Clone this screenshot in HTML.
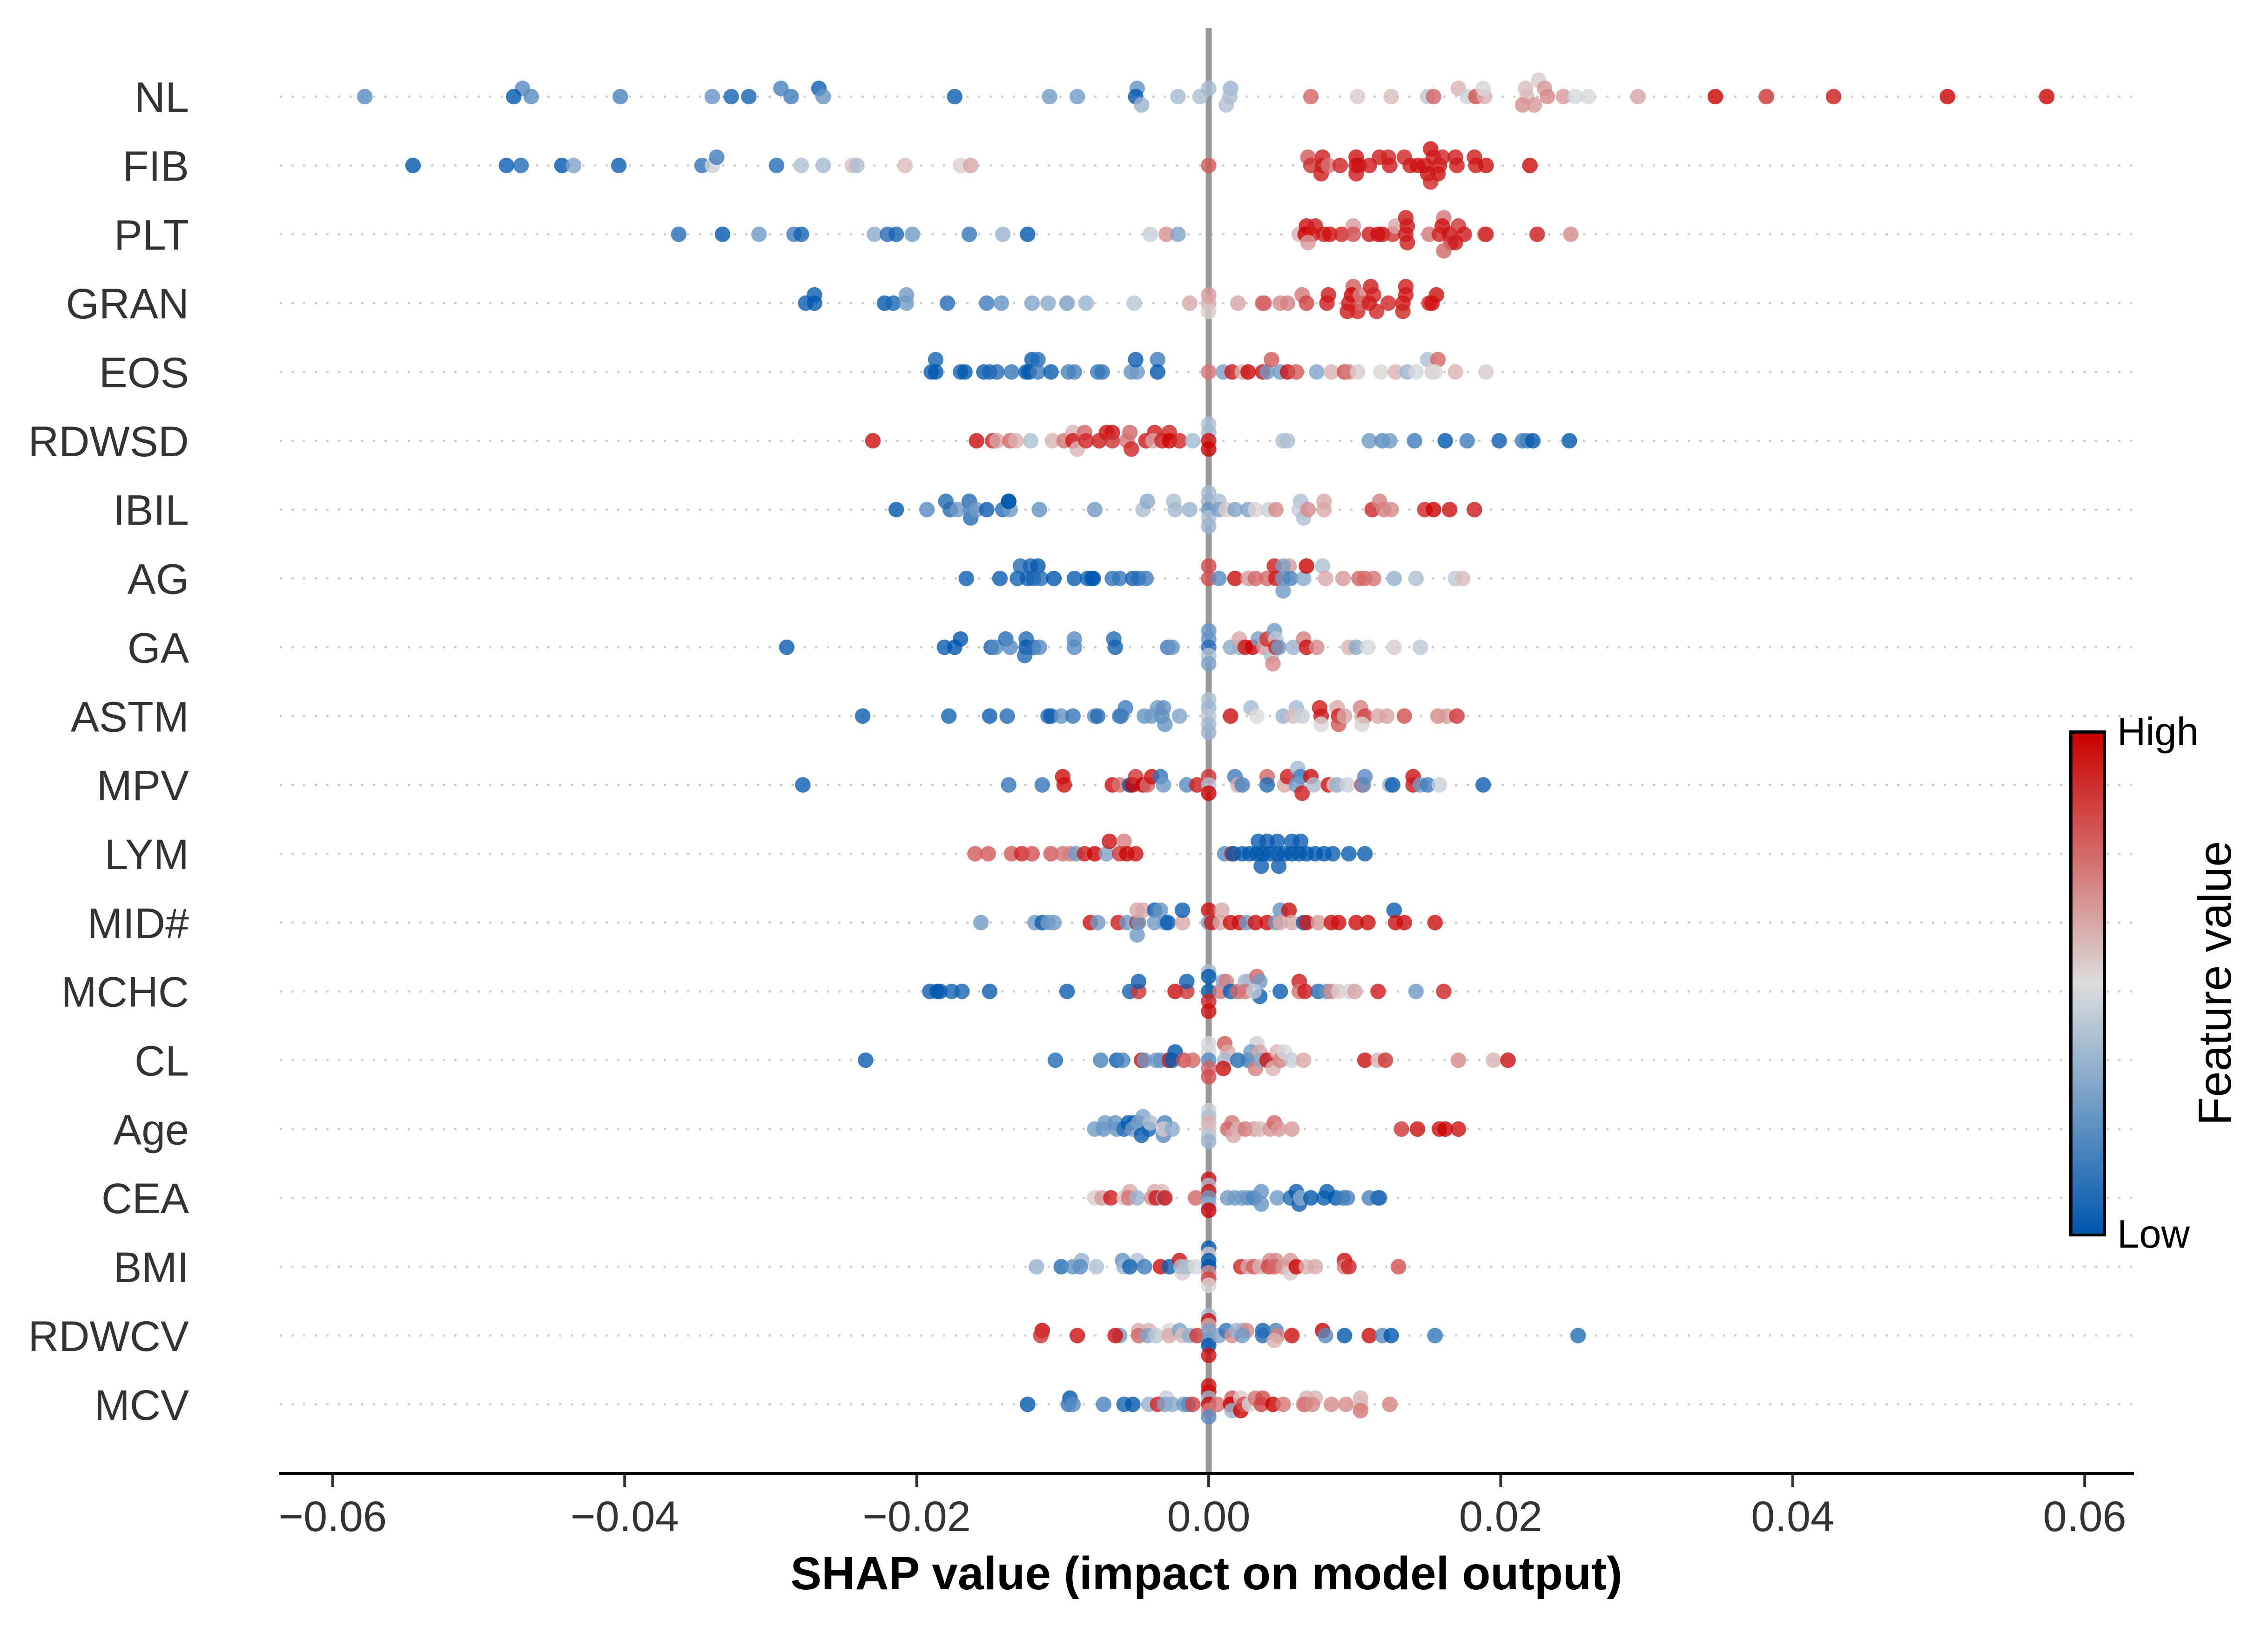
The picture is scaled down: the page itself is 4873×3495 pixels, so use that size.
<!DOCTYPE html>
<html lang="en">
<head>
<meta charset="utf-8">
<title>SHAP summary plot</title>
<style>
html,body{margin:0;padding:0;background:#fff;}
svg{display:block;font-family:"Liberation Sans",Arial,sans-serif;}
</style>
</head>
<body>
<svg id="chart" xmlns="http://www.w3.org/2000/svg" width="4873" height="3495" viewBox="0 0 4873 3495">
<defs>
<linearGradient id="cbar" x1="0" y1="1" x2="0" y2="0">
<stop offset="0" stop-color="#0057ae"/>
<stop offset="0.5" stop-color="#dcdcdc"/>
<stop offset="1" stop-color="#cc0000"/>
</linearGradient>
</defs>
<rect x="0" y="0" width="4873" height="3495" fill="#fff"/>
<g id="grid"></g>
<line x1="2597" y1="60" x2="2597" y2="3164" stroke="#999999" stroke-width="13"/>
<g id="marks"></g>
<g id="ylabels"></g>
<g id="xaxis"></g>
<text x="2592" y="3414" font-size="100" font-weight="bold" text-anchor="middle" fill="#000">SHAP value (impact on model output)</text>
<g>
<rect x="4446" y="1569" width="79" height="1087" fill="#000"/>
<rect x="4453" y="1576" width="66" height="1074" fill="url(#cbar)"/>
<text x="4549" y="1601" font-size="85" fill="#000">High</text>
<text x="4549" y="2680" font-size="85" fill="#000">Low</text>
<text transform="translate(4793 2112) rotate(-90)" font-size="100" text-anchor="middle" fill="#000">Feature value</text>
</g>
</svg>
<script>
// Feature order, top to bottom
const features = ["NL","FIB","PLT","GRAN","EOS","RDWSD","IBIL","AG","GA","ASTM","MPV","LYM","MID#","MCHC","CL","Age","CEA","BMI","RDWCV","MCV"];
const xTicks = [-0.06,-0.04,-0.02,0,0.02,0.04,0.06];
const xTickLabels = ["\u22120.06","\u22120.04","\u22120.02","0.00","0.02","0.04","0.06"];

// SHAP values (x 10^-3), swarm layers (negative = above row), feature values (0..1)
const shapNL = [-57.8,-47.0,-47.6,-46.4,-40.3,-34.0,-32.7,-31.5,-29.3,-28.6,-26.7,-26.4,-17.4,-10.9,-9.0,-4.9,-5.0,-4.6,-2.1,-0.6,0,1.5,1.45,1.2,7.0,10.2,12.5,15.0,15.4,17.1,17.7,18.3,18.9,18.8,21.7,21.8,22.6,23.0,23.2,21.5,22.3,24.3,25.1,26.0,29.4,34.7,38.2,42.8,50.6,57.4];
const layerNL = [0,-1,0,0,0,0,0,0,-1,0,-1,0,0,0,0,-1,0,1,0,0,-1,-1,0,1,0,0,0,0,0,-1,0,0,0,-1,-1,0,-2,-1,0,1,1,0,0,0,0,0,0,0,0,0];
const valueNL = [.25,.25,.08,.25,.22,.28,.12,.12,.22,.2,.1,.28,.1,.3,.3,.28,.05,.38,.4,.42,.4,.38,.42,.42,.75,.55,.58,.45,.75,.6,.48,.8,.6,.53,.58,.58,.55,.65,.68,.67,.65,.65,.5,.5,.63,.95,.85,.9,.95,.95];

const shapFIB = [-54.5,-48.1,-47.1,-44.3,-43.5,-40.4,-34.7,-34.0,-33.7,-29.6,-27.9,-26.4,-24.4,-24.1,-20.8,-17.0,-16.3,0,6.8,7.0,7.8,7.8,7.7,8.2,9.0,10.1,10.1,10.3,10.1,11.0,11.7,12.3,12.4,13.4,13.8,14.3,14.8,15.2,15.4,15.0,15.7,15.2,15.8,16.0,16.9,17.0,18.2,18.3,19.0,22.0];
const layerFIB = [0,0,0,0,0,0,0,0,-1,0,0,0,0,0,0,0,0,0,-1,0,-1,0,1,0,0,-1,0,0,1,0,-1,-1,0,-1,0,0,0,-2,-1,1,1,2,0,-1,-1,0,-1,0,0,0];
const valueFIB = [.08,.1,.15,.08,.33,.1,.17,.48,.2,.15,.42,.4,.58,.42,.58,.54,.63,.78,.78,.85,.9,.9,.9,.72,.88,.92,.92,.92,.9,.9,.9,.88,.9,.88,.9,.92,.92,.92,.9,.92,.92,.88,.9,.88,.9,.9,.9,.9,.92,.93];

const shapPLT = [-36.3,-33.3,-30.8,-28.4,-27.9,-22.9,-22.0,-21.4,-20.3,-16.4,-14.1,-12.4,-4.0,-2.9,-2.1,6.2,6.7,6.6,7.3,7.1,6.8,7.9,8.3,9.1,9.9,9.9,11.0,11.6,11.9,12.6,12.8,13.5,13.6,13.5,13.6,15.1,16.1,16.0,15.8,16.5,16.6,17.1,16.9,16.1,17.5,18.9,19.0,22.5,24.8];
const layerPLT = [0,0,0,0,0,0,0,0,0,0,0,0,0,0,0,0,-1,0,-1,0,1,0,0,0,-1,0,0,0,0,0,-1,-2,-1,0,1,0,-2,-1,0,0,1,-1,1,2,0,0,0,0,0];
const valuePLT = [.15,.08,.3,.2,.12,.35,.15,.12,.3,.18,.38,.08,.47,.67,.33,.6,.92,.95,.9,.9,.65,.9,.92,.88,.65,.8,.9,.92,.92,.85,.62,.9,.9,.9,.9,.72,.72,.92,.88,.92,.85,.85,.9,.75,.9,.72,.88,.9,.68];

const shapGRAN = [-27.0,-27.6,-27.0,-22.2,-21.6,-20.7,-20.7,-17.9,-15.2,-14.2,-12.1,-11.0,-9.7,-8.4,-5.1,-1.3,0,0,0,2.0,3.7,3.8,4.9,5.4,6.4,6.7,8.2,8.1,9.9,9.8,9.6,9.5,10.2,10.4,10.5,11.1,11.3,11.0,11.5,12.3,13.5,13.5,13.3,13.3,15.1,15.3,15.6];
const layerGRAN = [-1,0,0,0,0,-1,0,0,0,0,0,0,0,0,0,0,-1,0,1,0,0,0,0,0,-1,0,-1,0,-2,-1,0,1,1,-1,0,-2,-1,0,1,0,-2,-1,0,1,0,0,-1];
const valueGRAN = [.1,.1,.08,.08,.13,.3,.3,.15,.2,.28,.33,.35,.32,.38,.44,.62,.65,.62,.55,.63,.78,.75,.68,.7,.72,.82,.9,.9,.78,.95,.9,.9,.88,.7,.75,.9,.88,.9,.88,.88,.9,.9,.9,.88,.88,.92,.92];

const shapEOS = [-18.7,-19.0,-18.7,-17.0,-16.7,-15.4,-15.0,-14.5,-13.5,-12.5,-12.3,-12.1,-11.7,-11.7,-10.8,-9.6,-9.2,-7.6,-7.3,-5.3,-4.9,-5.0,-3.5,-3.5,0,1.0,1.6,2.3,2.7,3.7,4.0,4.3,4.9,5.4,6.0,7.4,8.4,9.3,9.6,10.2,11.8,12.8,13.6,14.2,15.0,15.7,15.3,15.5,16.9,19.0];
const layerEOS = [-1,0,0,0,0,0,0,0,0,0,0,-1,-1,0,0,0,0,0,0,0,0,-1,-1,0,0,0,0,0,0,0,0,-1,0,0,0,0,0,0,0,0,0,0,0,0,-1,-1,0,0,0,0];
const valueEOS = [.12,.1,.08,.12,.05,.1,.12,.15,.18,.08,.05,.1,.15,.2,.1,.22,.22,.2,.18,.28,.3,.1,.2,.08,.72,.32,.9,.6,.95,.92,.3,.78,.3,.92,.78,.33,.6,.8,.7,.55,.53,.6,.38,.5,.42,.75,.55,.52,.6,.55];

const shapRDWSD = [-23.0,-15.9,-14.8,-14.5,-13.6,-13.2,-12.2,-10.7,-9.9,-9.3,-9.3,-9.0,-8.5,-8.4,-7.0,-7.5,-6.6,-6.6,-5.4,-5.6,-5.3,-4.3,-3.7,-3.8,-3.2,-2.7,-2.7,-2.0,-1.1,0,0,0,0,5.1,5.4,11.0,11.9,12.4,14.1,16.2,17.7,19.9,21.5,21.8,22.2,24.7];
const layerRDWSD = [0,0,0,0,0,0,0,0,0,-1,0,1,-1,0,-1,0,-1,0,-1,0,1,0,-1,0,0,-1,0,0,0,-2,-1,0,1,0,0,0,0,0,0,0,0,0,0,0,0,0];
const valueRDWSD = [.92,.92,.88,.62,.75,.6,.42,.6,.72,.6,.9,.6,.75,.88,.92,.9,.92,.85,.75,.72,.88,.9,.9,.62,.88,.88,.98,.88,.4,.42,.4,.92,.95,.42,.42,.3,.25,.3,.2,.08,.2,.1,.2,.22,.05,.08];

const shapIBIL = [-21.4,-19.3,-18.0,-17.7,-17.2,-16.4,-16.3,-16.3,-15.9,-15.2,-14.1,-13.6,-13.7,-13.7,-11.6,-7.8,-4.5,-4.2,-2.4,-2.3,-1.3,0,0,0,0,0,0.7,0.7,1.2,1.8,2.7,3.2,4.1,4.6,6.3,6.2,6.5,6.8,7.9,7.9,11.2,11.7,12.0,12.5,14.8,15.4,16.5,18.2];
const layerIBIL = [0,0,-1,0,0,-1,1,0,0,0,0,0,-1,-1,0,0,0,-1,-1,0,0,-2,-1,0,1,2,-1,0,0,0,0,0,0,0,-1,0,1,0,-1,0,0,-1,0,0,0,0,0,0];
const valueIBIL = [.08,.25,.15,.15,.3,.15,.15,.25,.3,.1,.15,.3,.05,.08,.27,.3,.42,.35,.42,.4,.38,.4,.38,.28,.42,.38,.42,.32,.55,.33,.33,.53,.48,.68,.42,.47,.42,.68,.62,.62,.88,.7,.7,.68,.88,.95,.92,.9];

const shapAG = [-16.6,-14.3,-12.9,-13.1,-12.2,-11.7,-12.4,-12.0,-11.5,-10.6,-9.2,-8.3,-8.0,-7.9,-6.6,-6.1,-5.2,-4.8,-4.3,0,0,0.7,1.8,2.7,3.2,4.0,4.5,5.5,5.1,4.6,5.1,5.6,6.5,5.1,6.7,7.8,8.0,9.2,10.3,10.7,11.3,12.7,14.2,16.9,17.4];
const layerAG = [0,0,-1,0,-1,-1,0,0,0,0,0,0,0,0,0,0,0,0,0,-1,0,0,0,0,0,0,-1,-1,-1,0,0,0,0,1,-1,-1,0,0,0,0,0,0,0,0,0];
const valueAG = [.1,.1,.15,.12,.12,.05,.1,.12,.15,.08,.1,.12,.02,.05,.17,.18,.12,.15,.2,.82,.8,.25,.92,.65,.75,.75,.9,.65,.32,.9,.3,.22,.35,.3,.95,.42,.62,.65,.75,.75,.72,.37,.42,.45,.58];

const shapGA = [-28.9,-18.1,-17.4,-17.0,-14.9,-14.6,-13.9,-13.6,-12.5,-12.5,-12.6,-12.0,-11.6,-9.2,-9.2,-6.5,-6.4,-2.8,-2.5,0,0,0,0,0,1.5,2.1,2.1,2.5,3.0,3.4,3.8,4.0,4.5,4.6,4.3,4.6,4.8,4.4,5.8,6.5,6.7,7.4,9.6,10.1,10.9,12.7,14.5];
const layerGA = [0,0,0,-1,0,0,-1,0,-1,0,1,0,0,-1,0,-1,0,0,0,-2,-1,0,1,2,0,0,-1,0,0,-1,0,-1,-2,-1,1,0,0,2,0,-1,0,0,0,0,0,0,0];
const valueGA = [.1,.1,.08,.08,.12,.25,.15,.25,.15,.05,.15,.15,.25,.25,.25,.15,.12,.2,.28,.28,.28,.15,.42,.32,.35,.38,.62,.92,.95,.32,.65,.85,.3,.45,.42,.88,.3,.68,.38,.7,.92,.68,.6,.35,.5,.55,.45];

const shapASTM = [-23.7,-17.8,-15.0,-13.8,-11.0,-10.8,-10.1,-9.3,-7.8,-7.6,-6.1,-6.0,-5.7,-4.4,-3.9,-3.5,-3.1,-3.2,-3.0,-2.0,0,0,0,0,0,1.5,2.9,3.3,5.1,6.0,5.8,6.4,7.6,7.7,7.7,8.8,8.9,8.9,9.3,10.4,10.5,10.7,10.5,11.6,12.2,13.4,15.7,16.3,17.0];
const layerASTM = [0,0,0,0,0,0,0,0,0,0,0,0,-1,0,0,-1,-1,0,1,0,-2,-1,0,1,2,0,-1,0,0,-1,0,0,-1,0,1,-1,0,1,0,-1,0,0,1,0,0,0,0,0,0];
const valueASTM = [.1,.12,.1,.15,.15,.1,.28,.18,.25,.15,.2,.2,.2,.28,.3,.3,.27,.27,.28,.33,.42,.38,.45,.4,.38,.92,.4,.52,.38,.4,.58,.47,.9,.9,.5,.62,.9,.78,.62,.7,.62,.82,.53,.62,.63,.8,.68,.65,.85];

const shapMPV = [-27.8,-13.7,-11.4,-10.0,-9.9,-6.6,-6.1,-5.4,-5.2,-5.0,-4.5,-4.2,-3.9,-3.3,-3.1,-1.5,-0.8,0,0,0,1.8,2.0,2.3,4.0,4.0,5.2,5.4,6.1,6.3,6.0,7.0,6.4,7.2,8.2,8.6,8.8,9.5,10.5,10.6,10.7,12.4,12.6,14.0,14.0,14.5,15.0,15.8,18.8];
const layerMPV = [0,0,0,-1,0,0,0,0,0,-1,0,0,-1,-1,0,0,0,-1,0,1,-1,0,0,-1,0,0,-1,-2,-1,0,-1,1,0,0,0,0,0,0,0,-1,0,0,-1,0,0,0,0,0];
const valueMPV = [.1,.18,.18,.92,.92,.92,.72,.08,.95,.85,.95,.75,.92,.17,.3,.25,.9,.85,.42,.95,.2,.62,.22,.75,.15,.62,.9,.4,.2,.3,.92,.9,.42,.92,.55,.38,.48,.85,.3,.25,.38,.1,.92,.9,.3,.2,.48,.1];

const shapLYM = [-16.0,-15.1,-13.5,-12.8,-12.1,-10.8,-10.0,-9.5,-9.1,-8.5,-7.8,-7.0,-6.8,-5.8,-6.1,-5.6,-5.0,1.1,1.6,1.7,2.3,2.8,3.4,3.3,3.6,3.7,4.0,4.2,4.7,4.8,4.7,5.2,5.7,5.7,6.3,6.2,6.7,7.3,7.9,8.5,9.6,10.7];
const layerLYM = [0,0,0,0,0,0,0,0,0,0,0,0,-1,-1,0,0,0,0,0,0,0,0,-1,0,1,0,-1,0,-1,1,0,0,-1,0,-1,0,0,0,0,0,0,0];
const valueLYM = [.78,.78,.78,.88,.8,.78,.72,.7,.3,.9,.95,.33,.92,.7,.85,.95,.92,.25,.9,.1,.1,.08,.1,.05,.1,.05,.1,.05,.1,.1,.1,.05,.1,.05,.1,.05,.08,.08,.08,.1,.1,.1];

const shapMID = [-15.6,-11.9,-11.4,-11.0,-10.6,-8.1,-7.6,-6.2,-5.6,-4.9,-4.8,-4.9,-4.9,-4.5,-3.7,-3.3,-3.7,-3.0,-2.8,-1.8,-1.8,0,0.9,0,0.2,0.8,1.5,2.1,2.6,3.2,4.0,4.6,4.9,5.5,4.9,5.7,6.5,6.7,7.5,8.4,8.9,10.1,10.9,12.7,12.8,13.4,15.5];
const layerMID = [0,0,0,0,0,0,0,0,0,0,0,1,-1,-1,-1,-1,0,0,0,0,-1,-1,-1,0,0,0,0,0,0,0,0,0,-1,-1,0,0,0,0,0,0,0,0,0,-1,0,0,0];
const valueMID = [.3,.3,.1,.3,.3,.92,.3,.9,.3,.9,.3,.3,.62,.62,.1,.28,.3,.3,.05,.62,.1,.92,.62,.3,.9,.62,.92,.92,.3,.92,.92,.3,.28,.92,.62,.62,.1,.9,.65,.92,.92,.92,.92,.1,.92,.92,.92];

const shapMCHC = [-19.1,-18.6,-18.4,-17.6,-16.9,-15.0,-9.7,-5.4,-4.8,-4.8,-2.3,-1.5,-1.5,0,0,0,0,0,0.8,1.0,1.2,1.5,2.0,2.5,2.7,2.5,3.3,3.5,3.5,3.1,4.9,6.2,6.2,6.6,7.5,8.1,8.4,8.9,9.6,10.0,11.6,14.2,16.1];
const layerMCHC = [0,0,0,0,0,0,0,0,0,-2,0,0,-2,-4,-3,0,2,4,0,-2,-2,0,0,-2,-2,0,-3,-2,1,0,0,-2,0,0,0,0,0,0,0,0,0,0,0];
const valueMCHC = [.1,.05,.08,.12,.12,.1,.1,.12,.85,.1,.92,.85,.1,.4,.08,.08,.88,.92,.72,.35,.7,.1,.75,.42,.4,.72,.75,.3,.1,.45,.1,.9,.72,.9,.15,.28,.68,.55,.5,.63,.9,.3,.88];

const shapCL = [-23.5,-10.5,-7.4,-6.3,-5.9,-4.6,-4.4,-3.6,-3.3,-2.8,-2.7,-2.3,-2.5,-1.7,-1.1,0,0,0,0,0,1.1,1.3,1.1,1.0,2.0,2.7,3.3,2.9,3.5,3.2,3.6,4.0,4.4,4.7,4.9,5.2,5.7,6.5,10.7,11.6,12.1,17.1,19.5,20.5];
const layerCL = [0,0,0,0,0,0,0,0,0,0,0,-1,0,0,0,-2,-1,0,1,2,-2,-1,0,1,0,0,-2,-1,-1,1,0,0,1,-1,0,-1,0,0,0,0,0,0,0,0];
const valueCL = [.1,.15,.22,.1,.22,.92,.3,.3,.28,.3,.9,.08,.1,.8,.75,.5,.5,.25,.75,.8,.78,.62,.4,.92,.15,.2,.48,.3,.62,.7,.35,.92,.6,.6,.7,.5,.47,.62,.92,.6,.85,.68,.6,.92];

const shapAge = [-7.8,-7.2,-7.1,-6.4,-6.3,-5.8,-5.5,-5.1,-5.2,-4.5,-4.8,-4.6,-4.1,-4.0,-3.1,-3.0,-3.1,-2.5,0,0,0,0,0,0,1.6,1.3,1.7,2.0,2.5,3.1,3.5,4.2,4.5,4.8,5.7,13.2,14.3,15.8,16.2,17.1];
const layerAge = [0,0,-1,-1,0,0,-1,-1,0,-2,-1,1,0,-1,1,-1,0,0,-3,-2,-1,0,1,2,-1,0,1,0,0,0,0,0,-1,0,0,0,0,0,0,0];
const valueAge = [.3,.28,.3,.28,.28,.15,.05,.1,.3,.33,.32,.1,.12,.42,.25,.22,.55,.35,.48,.42,.6,.58,.45,.38,.72,.75,.62,.6,.72,.65,.58,.65,.75,.65,.65,.85,.92,.92,.95,.92];

const shapCEA = [-7.8,-7.3,-6.7,-5.8,-5.4,-5.5,-4.9,-3.7,-3.2,-3.9,-3.6,-3.1,-3.0,-0.9,0,0,0,0,0,0,1.3,1.8,2.3,2.7,3.1,3.6,3.6,4.7,5.6,6.0,6.2,6.3,7.0,7.9,8.1,8.7,9.2,9.5,11.0,11.6,11.7];
const layerCEA = [0,0,0,0,-1,0,0,-1,-1,0,0,0,0,0,-3,-2,-1,0,1,2,0,0,0,0,0,-1,1,0,0,-1,1,0,0,0,-1,0,0,0,0,0,0];
const valueCEA = [.55,.65,.9,.55,.62,.72,.38,.62,.58,.68,.9,.35,.9,.75,.92,.42,.92,.3,.35,.95,.3,.3,.3,.28,.22,.28,.28,.3,.15,.1,.1,.35,.05,.1,.1,.08,.2,.22,.22,.15,.15];

const shapBMI = [-11.8,-10.1,-9.3,-8.7,-8.8,-7.7,-5.9,-4.9,-5.8,-5.4,-4.4,-3.3,-2.7,-2.0,-1.8,-1.9,-1.5,-0.9,0,0,0,0,0,0,0,2.2,2.7,3.1,3.5,4.2,4.1,4.6,4.5,5.1,5.6,5.6,6.0,6.7,7.3,9.3,9.3,9.6,13.0];
const layerBMI = [0,0,0,-1,0,0,-1,-1,0,0,0,0,0,-1,1,0,0,0,-3,-2,-1,0,1,2,3,0,0,0,0,-1,0,-1,0,0,-1,1,0,0,0,-1,0,0,0];
const valueBMI = [.37,.15,.28,.38,.25,.42,.28,.42,.38,.12,.2,.92,.1,.92,.55,.42,.42,.5,.05,.55,.05,.05,.68,.82,.5,.88,.62,.78,.6,.68,.82,.68,.75,.65,.65,.55,.95,.6,.62,.92,.7,.88,.8];

const shapRDWCV = [-11.4,-11.5,-9.0,-6.1,-6.4,-4.8,-4.1,-4.8,-4.2,-3.6,-2.7,-2.7,-2.0,-1.8,-1.3,-0.8,0,0,0,0,0,0,0,0.7,1.2,1.6,1.9,2.3,2.6,2.3,3.7,3.7,4.6,4.7,4.5,5.7,7.8,8.0,9.3,11.0,11.9,12.5,15.5,25.3];
const layerRDWCV = [-1,0,0,0,0,-1,-1,0,0,0,-1,0,-1,0,0,0,-4,-3,-2,-1,1,2,4,0,-1,0,-1,-1,-1,0,-1,0,-1,0,1,0,-1,0,0,0,0,0,0,0];
const valueRDWCV = [.95,.85,.92,.3,.92,.62,.6,.75,.33,.45,.5,.62,.32,.58,.35,.85,.4,.92,.62,.32,.3,.05,.92,.33,.18,.68,.38,.38,.68,.3,.12,.15,.22,.7,.6,.92,.95,.25,.08,.92,.25,.08,.18,.15];

const shapMCV = [-12.4,-9.5,-9.6,-9.3,-7.2,-5.8,-5.2,-4.1,-2.9,-3.5,-3.0,-2.5,-1.7,-1.4,-1.1,0,0,0,0,0,0,0.6,1.6,1.5,1.6,2.2,2.2,2.4,2.8,3.2,3.7,3.6,4.4,5.1,6.7,7.3,6.5,6.6,7.1,8.4,9.4,10.4,10.4,10.4,12.4];
const layerMCV = [0,-1,0,0,0,0,0,0,-1,0,0,0,0,0,0,-3,-2,-1,0,1,2,0,-1,0,1,-1,1,0,0,-1,-1,0,0,0,-1,-1,0,0,0,0,0,-1,0,1,0];
const valueMCV = [.08,.08,.18,.25,.22,.12,.05,.38,.47,.88,.33,.35,.3,.25,.82,.92,.92,.38,.98,.7,.25,.72,.78,.95,.38,.55,.95,.8,.5,.72,.8,.82,.95,.72,.6,.6,.68,.72,.68,.68,.68,.6,.58,.72,.7];

const shapRows = [shapNL,shapFIB,shapPLT,shapGRAN,shapEOS,shapRDWSD,shapIBIL,shapAG,shapGA,shapASTM,shapMPV,shapLYM,shapMID,shapMCHC,shapCL,shapAge,shapCEA,shapBMI,shapRDWCV,shapMCV];
const layerRows = [layerNL,layerFIB,layerPLT,layerGRAN,layerEOS,layerRDWSD,layerIBIL,layerAG,layerGA,layerASTM,layerMPV,layerLYM,layerMID,layerMCHC,layerCL,layerAge,layerCEA,layerBMI,layerRDWCV,layerMCV];
const valueRows = [valueNL,valueFIB,valuePLT,valueGRAN,valueEOS,valueRDWSD,valueIBIL,valueAG,valueGA,valueASTM,valueMPV,valueLYM,valueMID,valueMCHC,valueCL,valueAge,valueCEA,valueBMI,valueRDWCV,valueMCV];

const NS = "http://www.w3.org/2000/svg";
const xScale = v => 2597 + 31370 * v;
const yScale = i => 207.6 + 147.85 * i;
const swarmHeight = 53.2;

function lerp(a, b, t) { return Math.round(a + (b - a) * t); }
function colorOf(v) {
  const t = Math.max(0, Math.min(1, (v - 0.08) / 0.87));
  if (t < 0.5) {
    const u = t / 0.5;
    return "rgb(" + lerp(0, 220, u) + "," + lerp(87, 220, u) + "," + lerp(174, 220, u) + ")";
  }
  const u = (t - 0.5) / 0.5;
  return "rgb(" + lerp(220, 204, u) + "," + lerp(220, 0, u) + "," + lerp(220, 0, u) + ")";
}
function make(tag, attrs, parent) {
  const el = document.createElementNS(NS, tag);
  for (const k in attrs) el.setAttribute(k, attrs[k]);
  parent.appendChild(el);
  return el;
}

const grid = document.getElementById("grid");
const marks = document.getElementById("marks");
const ylabels = document.getElementById("ylabels");
const xaxis = document.getElementById("xaxis");

features.forEach(function (name, i) {
  const slug = name.toLowerCase().replace("#", "-count");
  const y = yScale(i);

  const guide = make("line", {x1: 601, x2: 4585, y1: y, y2: y, stroke: "#cccccc", "stroke-width": 4.5, "stroke-dasharray": "5 20"}, grid);
  
  

  const label = make("text", {x: 406, y: y + 33, "font-size": 91.5, "text-anchor": "end", fill: "#333333"}, ylabels);
  label.textContent = name;
  
  

  const shaps = shapRows[i];
  const layers = layerRows[i];
  const values = valueRows[i];
  const maxLayer = Math.max.apply(null, layers.map(Math.abs));
  const step = swarmHeight / (maxLayer + 1);
  shaps.forEach(function (s, j) {
    const dot = make("circle", {cx: xScale(s / 1000), cy: y + layers[j] * step, r: 16.7, fill: colorOf(values[j]), "fill-opacity": 0.8}, marks);
    
    
  });
});

const spine = make("line", {x1: 599, x2: 4585, y1: 3165.5, y2: 3165.5, stroke: "#000", "stroke-width": 7}, xaxis);



xTicks.forEach(function (t, i) {
  const x = xScale(t);
  const tick = make("line", {x1: x, x2: x, y1: 3169, y2: 3194, stroke: "#333333", "stroke-width": 6}, xaxis);
  
  
  const lab = make("text", {x: x, y: 3289, "font-size": 92, "text-anchor": "middle", fill: "#333333"}, xaxis);
  lab.textContent = xTickLabels[i];
  
  
});
</script>
</body>
</html>
